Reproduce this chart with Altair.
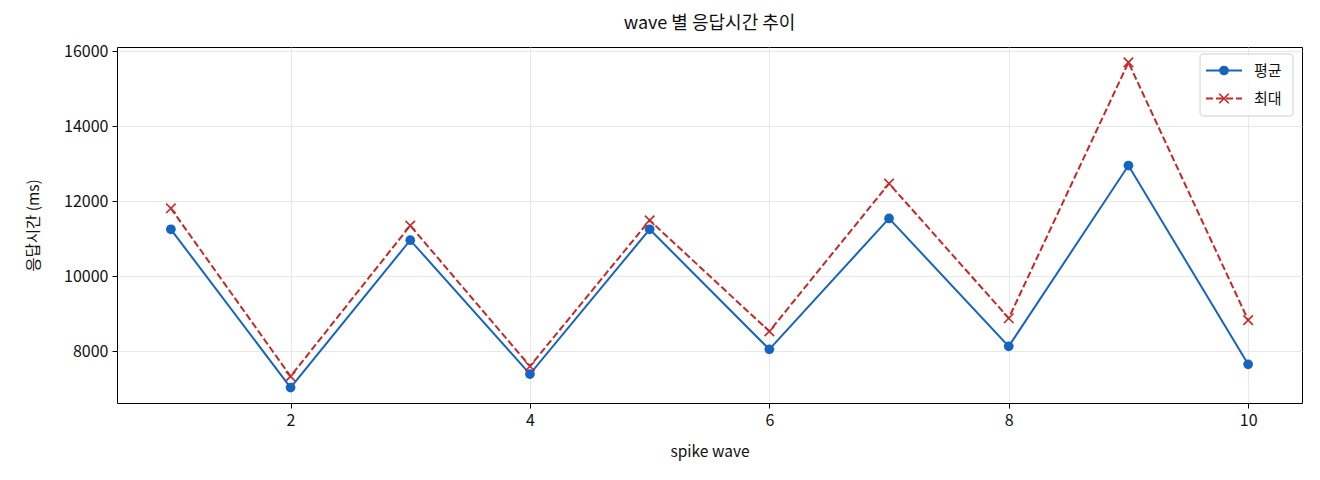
import altair as alt
import pandas as pd

waves = [1, 2, 3, 4, 5, 6, 7, 8, 9, 10]
avg_ms = [11250, 7030, 10960, 7390, 11250, 8050, 11540, 8130, 12950, 7650]
max_ms = [11810, 7330, 11350, 7600, 11490, 8530, 12470, 8880, 15700, 8830]
series_names = ["평균", "최대"]
x_ticks = [2, 4, 6, 8, 10]
y_ticks = [8000, 10000, 12000, 14000, 16000]

BLUE = "#1565C0"
RED = "#C62828"
FONT = "Noto Sans CJK KR"
W, H = 1185, 356

df_avg = pd.DataFrame({"wave": waves, "ms": avg_ms})
df_max = pd.DataFrame({"wave": waves, "ms": max_ms})

xs = alt.Scale(domain=[0.55, 10.45], nice=False, zero=False)
ys = alt.Scale(domain=[6619, 16111], nice=False, zero=False)

x_enc = alt.X("wave:Q", scale=xs, title="spike wave",
              axis=alt.Axis(values=x_ticks, format="d", titleX=W / 2, titleY=48,
                            titleBaseline="middle"))
y_enc = alt.Y("ms:Q", scale=ys, title="응답시간 (ms)",
              axis=alt.Axis(values=y_ticks, format="d", titleX=-84, titleY=H / 2,
                            titleBaseline="middle", titleAngle=-90, titleAlign="center"))

XPATH = "M-1,-1L1,1M-1,1L1,-1"

avg_line = alt.Chart(df_avg).mark_line(color=BLUE, strokeWidth=2).encode(x=x_enc, y=y_enc)
avg_pts = alt.Chart(df_avg).mark_point(shape="circle", filled=True, color=BLUE, size=95, opacity=1).encode(
    x=alt.X("wave:Q", scale=xs), y=alt.Y("ms:Q", scale=ys))
max_line = alt.Chart(df_max).mark_line(color=RED, strokeWidth=2, strokeDash=[7, 3]).encode(
    x=alt.X("wave:Q", scale=xs), y=alt.Y("ms:Q", scale=ys))
max_pts = alt.Chart(df_max).mark_point(shape=XPATH, filled=False, color=RED, size=90, strokeWidth=1.6, opacity=1).encode(
    x=alt.X("wave:Q", scale=xs), y=alt.Y("ms:Q", scale=ys))

# legend
leg = pd.DataFrame({"label": series_names})
leg1 = leg.iloc[[0]]
leg2 = leg.iloc[[1]]
lx0, lx1, ly0, ly1 = 1083, 1176, 7, 69
box = alt.Chart(leg1).mark_rect(fill="white", fillOpacity=0.85, stroke="#d0d0d0", strokeWidth=1,
                                 cornerRadius=3).encode(
    x=alt.value(lx0), x2=alt.value(lx1), y=alt.value(ly0), y2=alt.value(ly1))
e1y, e2y = 23.5, 51.5
r1 = alt.Chart(leg1).mark_rule(color=BLUE, strokeWidth=2).encode(
    x=alt.value(1089), x2=alt.value(1125), y=alt.value(e1y))
p1 = alt.Chart(leg1).mark_point(shape="circle", filled=True, color=BLUE, size=95, opacity=1).encode(
    x=alt.value(1107), y=alt.value(e1y))
t1 = alt.Chart(leg1).mark_text(align="left", baseline="middle", font=FONT, fontSize=15, color="#111").encode(
    x=alt.value(1137), y=alt.value(e1y), text="label:N")
r2 = alt.Chart(leg2).mark_rule(color=RED, strokeWidth=2, strokeDash=[7, 3]).encode(
    x=alt.value(1089), x2=alt.value(1125), y=alt.value(e2y))
p2 = alt.Chart(leg2).mark_point(shape=XPATH, filled=False, color=RED, size=90, strokeWidth=1.6, opacity=1).encode(
    x=alt.value(1107), y=alt.value(e2y))
t2 = alt.Chart(leg2).mark_text(align="left", baseline="middle", font=FONT, fontSize=15, color="#111").encode(
    x=alt.value(1137), y=alt.value(e2y), text="label:N")

chart = alt.layer(avg_line, avg_pts, max_line, max_pts, box, r1, p1, t1, r2, p2, t2).properties(
    width=W, height=H,
    background="white",
    title=alt.TitleParams("wave 별 응답시간 추이", font=FONT, fontSize=18, fontWeight="normal",
                          color="#111", anchor="middle", offset=10),
    autosize=alt.AutoSizeParams(type="none"),
    padding={"left": 109, "top": 39, "right": 10, "bottom": 70},
).configure_view(stroke="black", strokeWidth=1).configure_axis(
    labelFont=FONT, labelFontSize=16, labelColor="#111", titleFont=FONT, titleFontSize=15.5,
    titleFontWeight="normal", titleColor="#111", domain=False, tickColor="black", tickSize=5,
    tickWidth=1, labelPadding=4, gridColor="#e2e2e2", gridWidth=0.8,
)

chart.save("out.html", embed_options={"renderer": "svg", "actions": False})
